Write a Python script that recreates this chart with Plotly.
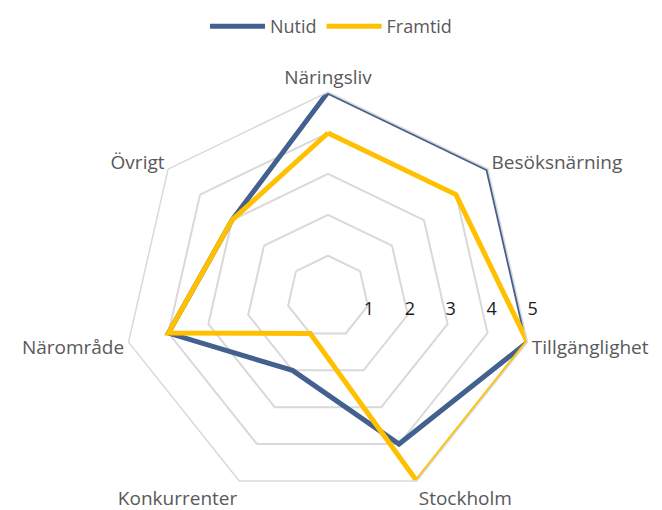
import plotly.graph_objects as go

CATEGORIES = ["Näringsliv", "Besöksnärning", "Tillgänglighet", "Stockholm",
              "Konkurrenter", "Närområde", "Övrigt"]
NUTID = [5, 5, 5, 4, 2, 4, 3]
FRAMTID = [4, 4, 5, 5, 1, 4, 3]
RADIAL_TICKS = [1, 2, 3, 4, 5]

COLORS = {"Nutid": "#43618E", "Framtid": "#FFC000"}
GRID = "#D9D9D9"
TEXT = "#595959"
FONT = "Open Sans, sans-serif"

# the page body adds an 8px offset, so layout numbers are shifted by it
W, H, OFF = 662, 510, 8
CX, CY, R = 328 - OFF, 294 - OFF, 207
DOMAIN = {"x": [(CX - R) / W, (CX + R) / W],
          "y": [1 - (CY + R) / H, 1 - (CY - R) / H]}


def closed(values):
    return values + values[:1]


fig = go.Figure()
for name, values in [("Nutid", NUTID), ("Framtid", FRAMTID)]:
    fig.add_trace(go.Scatterpolar(
        r=closed(values),
        theta=closed(CATEGORIES),
        mode="lines",
        name=name,
        line={"color": COLORS[name], "width": 5},
    ))

# second, circular polar on top only to carry horizontal radial tick labels
fig.add_trace(go.Scatterpolar(r=[], theta=[], subplot="polar2",
                              showlegend=False, hoverinfo="skip"))

fig.update_layout(
    width=W,
    height=H,
    paper_bgcolor="white",
    font={"family": FONT, "color": TEXT, "size": 19},
    margin={"l": 0, "r": 0, "t": 0, "b": 0},
    showlegend=True,
    legend={
        "orientation": "h",
        "x": (331 - OFF) / W, "xanchor": "center",
        "y": 1.012, "yanchor": "top",
        "itemwidth": 55,
        "font": {"family": FONT, "size": 18, "color": TEXT},
    },
    polar={
        "domain": DOMAIN,
        "bgcolor": "white",
        "gridshape": "linear",
        "angularaxis": {
            "direction": "clockwise",
            "rotation": 90,
            "showgrid": False,
            "showline": True,
            "linecolor": GRID,
            "linewidth": 1.5,
            "ticks": "",
            "tickfont": {"family": FONT, "size": 19, "color": TEXT},
        },
        "radialaxis": {
            "range": [0, 5],
            "tickvals": RADIAL_TICKS,
            "showline": False,
            "showticklabels": False,
            "ticks": "",
            "gridcolor": GRID,
            "gridwidth": 1.5,
        },
    },
    polar2={
        "domain": DOMAIN,
        "bgcolor": "rgba(0,0,0,0)",
        "angularaxis": {"visible": False},
        "radialaxis": {
            "range": [0, 5],
            "tickvals": RADIAL_TICKS,
            "angle": 0,
            "showgrid": False,
            "showline": False,
            "ticks": "",
            "tickfont": {"family": FONT, "size": 18, "color": "#1a1a1a"},
        },
    },
)

fig.write_html("out.html")
